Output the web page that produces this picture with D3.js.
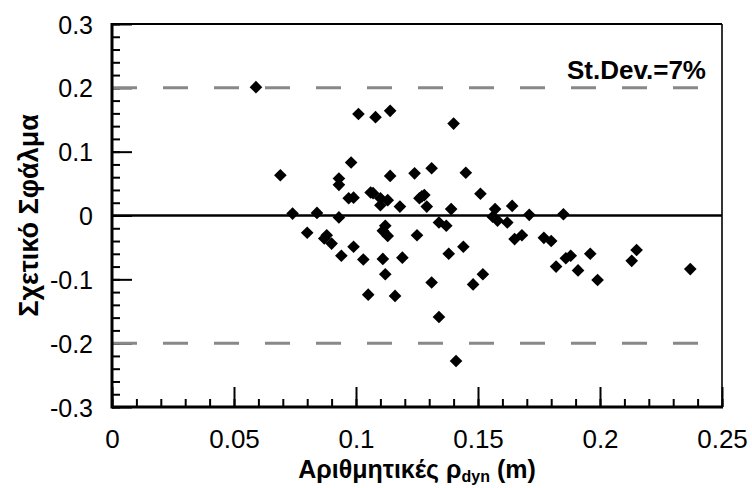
<!DOCTYPE html>
<html><head><meta charset="utf-8">
<script src="https://cdn.jsdelivr.net/npm/d3@7"></script>
<style>body{margin:0;background:#fff}svg{display:block}text{font-family:"Liberation Sans",Arial,sans-serif}</style>
</head><body><div id="c"></div>
<script>
const xVals = [0.059,0.069,0.074,0.084,0.093,0.080,0.088,0.087,0.090,0.094,0.099,0.103,0.111,0.119,0.112,0.105,0.116,0.112,0.111,0.113,0.125,0.129,0.139,0.134,0.137,0.138,0.144,0.131,0.134,0.141,0.148,0.152,0.157,0.156,0.158,0.162,0.164,0.171,0.185,0.165,0.168,0.177,0.180,0.182,0.186,0.188,0.191,0.196,0.199,0.213,0.215,0.237,0.140,0.131,0.145,0.124,0.128,0.151,0.101,0.108,0.114,0.098,0.093,0.093,0.097,0.099,0.114,0.106,0.107,0.110,0.113,0.110,0.118,0.126,0.127];
const yVals = [0.201,0.063,0.003,0.004,-0.003,-0.027,-0.031,-0.036,-0.044,-0.063,-0.049,-0.069,-0.068,-0.066,-0.092,-0.124,-0.126,-0.016,-0.024,-0.032,-0.031,0.014,0.010,-0.011,-0.016,-0.060,-0.049,-0.105,-0.159,-0.228,-0.108,-0.092,0.010,-0.002,-0.008,-0.011,0.015,0.001,0.002,-0.037,-0.031,-0.035,-0.040,-0.080,-0.067,-0.063,-0.086,-0.060,-0.101,-0.071,-0.054,-0.084,0.144,0.074,0.067,0.066,0.032,0.034,0.159,0.154,0.164,0.083,0.058,0.048,0.027,0.028,0.062,0.036,0.035,0.027,0.024,0.016,0.014,0.027,0.030];
const xTicks = [0,0.05,0.1,0.15,0.2,0.25];
const xTickLabels = ["0","0.05","0.1","0.15","0.2","0.25"];
const yTicks = [-0.3,-0.2,-0.1,0,0.1,0.2,0.3];
const yTickLabels = ["-0.3","-0.2","-0.1","0","0.1","0.2","0.3"];
const limitLines = [0.2,-0.2];
const annotation = "St.Dev.=7%";

const W=752,H=488;
const L=112,R=722,T=24,B=407;
const svg=d3.select("#c").append("svg").attr("width",W).attr("height",H);
const x=d3.scaleLinear().domain([0,0.25]).range([L,R]);
const y=d3.scaleLinear().domain([-0.3,0.3]).range([B,T]);

const xMinor=d3.range(0,0.2501,0.01).map(v=>+v.toFixed(3));
const yMinor=d3.range(-0.3,0.3001,0.02).map(v=>+v.toFixed(3));

svg.append("g").attr("transform",`translate(0,${B})`)
  .call(d3.axisBottom(x).tickValues(xMinor).tickSize(-8).tickFormat(""))
  .call(g=>{g.select(".domain").remove();g.selectAll("line").attr("stroke","#000").attr("stroke-width",2);});
svg.append("g").attr("transform",`translate(${L},0)`)
  .call(d3.axisLeft(y).tickValues(yMinor).tickSize(-8).tickFormat(""))
  .call(g=>{g.select(".domain").remove();g.selectAll("line").attr("stroke","#000").attr("stroke-width",2);});
svg.append("g").attr("transform",`translate(0,${B})`)
  .call(d3.axisBottom(x).tickValues(xTicks).tickSize(-20).tickPadding(0).tickFormat((d,i)=>xTickLabels[i]))
  .call(g=>{g.select(".domain").remove();g.selectAll("line").attr("stroke","#000").attr("stroke-width",2);
    g.selectAll("text").attr("y",41).attr("dy",0).attr("font-size",26).attr("fill","#000").style("font-family","'Liberation Sans',Arial,sans-serif");});
svg.append("g").attr("transform",`translate(${L},0)`)
  .call(d3.axisLeft(y).tickValues(yTicks).tickSize(-20).tickFormat((d,i)=>yTickLabels[i]))
  .call(g=>{g.select(".domain").remove();g.selectAll("line").attr("stroke","#000").attr("stroke-width",2);
    g.selectAll("text").attr("x",-19).attr("dy","0.36em").attr("font-size",25).attr("fill","#000").style("font-family","'Liberation Sans',Arial,sans-serif");});

svg.selectAll(".lim").data(limitLines).enter().append("line")
  .attr("x1",x(0)).attr("x2",x(0.2415)).attr("y1",d=>y(d)).attr("y2",d=>y(d))
  .attr("stroke","#888").attr("stroke-width",3).attr("stroke-dasharray","25,26");
svg.append("line").attr("x1",L).attr("x2",R).attr("y1",y(0)).attr("y2",y(0)).attr("stroke","#000").attr("stroke-width",2.5);

svg.append("line").attr("x1",L).attr("x2",R).attr("y1",T).attr("y2",T).attr("stroke","#000").attr("stroke-width",2);
svg.append("line").attr("x1",R).attr("x2",R).attr("y1",T).attr("y2",B).attr("stroke","#000").attr("stroke-width",1.6);
svg.append("line").attr("x1",L).attr("x2",L).attr("y1",T-1).attr("y2",B+1.5).attr("stroke","#000").attr("stroke-width",3);
svg.append("line").attr("x1",L).attr("x2",R+1).attr("y1",B).attr("y2",B).attr("stroke","#000").attr("stroke-width",3);

const sym=d3.symbol().type(d3.symbolSquare).size(80);
svg.selectAll(".pt").data(xVals.map((v,i)=>[v,yVals[i]])).enter().append("path")
  .attr("d",sym).attr("transform",d=>`translate(${x(d[0])},${y(d[1])}) rotate(45)`)
  .attr("fill","#000");

svg.append("text").attr("x",706).attr("y",79).attr("text-anchor","end")
  .attr("font-size",26).attr("font-weight","bold").text(annotation);

const xt=svg.append("text").attr("x",(L+R)/2).attr("y",478).attr("text-anchor","middle")
  .attr("font-size",25).attr("font-weight","bold");
xt.append("tspan").text("Αριθμητικές ρ");
xt.append("tspan").attr("font-size",16).attr("dy",4).text("dyn");
xt.append("tspan").attr("dy",-4).text(" (m)");
svg.append("text").attr("transform",`translate(38,${(T+B)/2}) rotate(-90)`).attr("text-anchor","middle")
  .attr("font-size",27).attr("font-weight","bold").text("Σχετικό  Σφάλμα");
</script></body></html>
